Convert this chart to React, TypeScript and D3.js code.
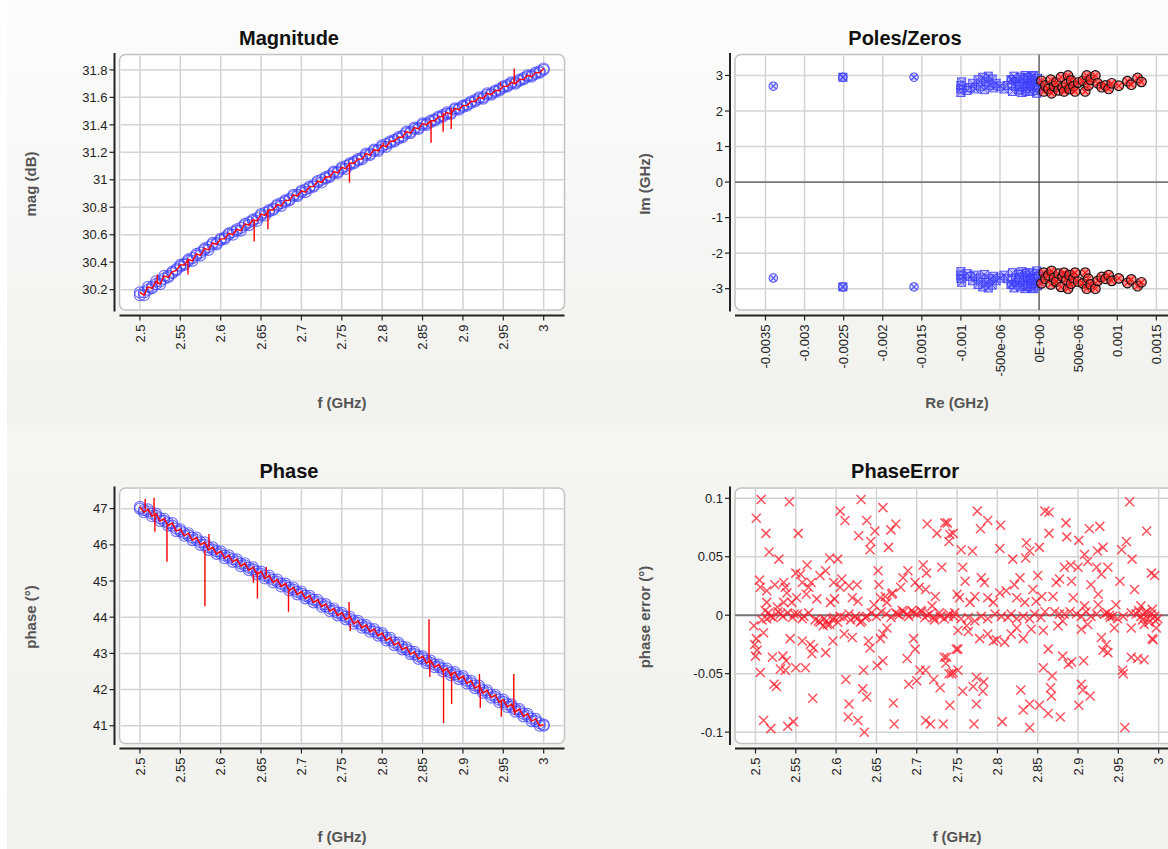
import React from "react";
import * as d3 from "d3";

// ---------- data ----------
const freq = [
  2.5, 2.505, 2.51, 2.515, 2.52, 2.525, 2.53, 2.535, 2.54, 2.545,
  2.55, 2.555, 2.56, 2.565, 2.57, 2.575, 2.58, 2.585, 2.59, 2.595,
  2.6, 2.605, 2.61, 2.615, 2.62, 2.625, 2.63, 2.635, 2.64, 2.645,
  2.65, 2.655, 2.66, 2.665, 2.67, 2.675, 2.68, 2.685, 2.69, 2.695,
  2.7, 2.705, 2.71, 2.715, 2.72, 2.725, 2.73, 2.735, 2.74, 2.745,
  2.75, 2.755, 2.76, 2.765, 2.77, 2.775, 2.78, 2.785, 2.79, 2.795,
  2.8, 2.805, 2.81, 2.815, 2.82, 2.825, 2.83, 2.835, 2.84, 2.845,
  2.85, 2.855, 2.86, 2.865, 2.87, 2.875, 2.88, 2.885, 2.89, 2.895,
  2.9, 2.905, 2.91, 2.915, 2.92, 2.925, 2.93, 2.935, 2.94, 2.945,
  2.95, 2.955, 2.96, 2.965, 2.97, 2.975, 2.98, 2.985, 2.99, 2.995,
  3.0,
];

// fitted magnitude (blue circles)
const magFit = [
  30.16, 30.18, 30.2, 30.22, 30.24, 30.26, 30.28, 30.3, 30.32, 30.35,
  30.37, 30.39, 30.41, 30.43, 30.45, 30.47, 30.49, 30.51, 30.53, 30.54,
  30.56, 30.58, 30.6, 30.62, 30.63, 30.65, 30.67, 30.69, 30.7, 30.72,
  30.74, 30.76, 30.77, 30.79, 30.81, 30.83, 30.84, 30.86, 30.88, 30.89,
  30.91, 30.93, 30.94, 30.96, 30.98, 31.0, 31.01, 31.03, 31.05, 31.06,
  31.08, 31.1, 31.11, 31.13, 31.14, 31.16, 31.18, 31.19, 31.21, 31.22,
  31.24, 31.26, 31.27, 31.29, 31.3, 31.32, 31.34, 31.35, 31.37, 31.38,
  31.4, 31.41, 31.42, 31.44, 31.45, 31.47, 31.48, 31.49, 31.51, 31.52,
  31.53, 31.55, 31.56, 31.58, 31.59, 31.6, 31.62, 31.63, 31.64, 31.66,
  31.67, 31.69, 31.7, 31.71, 31.72, 31.74, 31.75, 31.76, 31.77, 31.79,
  31.8,
];

// measured magnitude (red line, also marked with circles)
const magMeas = [
  30.18, 30.16, 30.22, 30.21, 30.26, 30.24, 30.3, 30.29, 30.33, 30.34,
  30.38, 30.38, 30.42, 30.41, 30.46, 30.45, 30.5, 30.49, 30.54, 30.53,
  30.57, 30.57, 30.61, 30.6, 30.64, 30.63, 30.68, 30.67, 30.71, 30.7,
  30.75, 30.74, 30.78, 30.78, 30.82, 30.81, 30.85, 30.85, 30.89, 30.88,
  30.92, 30.91, 30.95, 30.95, 30.99, 30.98, 31.02, 31.02, 31.06, 31.05,
  31.09, 31.08, 31.12, 31.12, 31.15, 31.15, 31.19, 31.18, 31.22, 31.21,
  31.25, 31.24, 31.28, 31.28, 31.31, 31.31, 31.35, 31.34, 31.38, 31.37,
  31.41, 31.4, 31.43, 31.43, 31.46, 31.46, 31.49, 31.48, 31.52, 31.51,
  31.54, 31.54, 31.57, 31.57, 31.6, 31.59, 31.63, 31.62, 31.65, 31.65,
  31.68, 31.68, 31.71, 31.7, 31.73, 31.73, 31.76, 31.75, 31.78, 31.78,
  31.81,
];

const magSpikes = [
  [2.5215, 30.31], [2.5595, 30.31], [2.6415, 30.55], [2.6585, 30.64],
  [2.7595, 30.98], [2.8015, 31.27], [2.8605, 31.27], [2.8755, 31.35],
  [2.8855, 31.37], [2.9465, 31.71], [2.9635, 31.81],
];

// fitted phase (blue circles)
const phaseFit = [
  47.0, 46.96, 46.92, 46.86, 46.8, 46.73, 46.66, 46.6, 46.53, 46.45,
  46.38, 46.32, 46.26, 46.2, 46.14, 46.07, 46.0, 45.93, 45.87, 45.82,
  45.76, 45.7, 45.65, 45.6, 45.54, 45.48, 45.43, 45.37, 45.32, 45.26,
  45.2, 45.14, 45.09, 45.03, 44.98, 44.92, 44.87, 44.81, 44.76, 44.7,
  44.65, 44.59, 44.53, 44.48, 44.42, 44.36, 44.3, 44.24, 44.18, 44.12,
  44.06, 44.01, 43.95, 43.89, 43.84, 43.78, 43.72, 43.67, 43.61, 43.56,
  43.5, 43.43, 43.37, 43.3, 43.24, 43.18, 43.11, 43.05, 42.98, 42.92,
  42.86, 42.8, 42.74, 42.69, 42.63, 42.58, 42.52, 42.47, 42.42, 42.36,
  42.31, 42.24, 42.18, 42.11, 42.05, 41.98, 41.92, 41.85, 41.79, 41.72,
  41.66, 41.59, 41.53, 41.46, 41.4, 41.33, 41.27, 41.2, 41.13, 41.07,
  41.0,
];

// measured phase (red line, also marked with circles)
const phaseMeas = [
  47.05, 46.9, 46.98, 46.79, 46.86, 46.66, 46.72, 46.53, 46.6, 46.38,
  46.43, 46.25, 46.32, 46.13, 46.2, 46.0, 46.07, 45.86, 45.93, 45.75,
  45.82, 45.63, 45.71, 45.53, 45.6, 45.41, 45.49, 45.3, 45.38, 45.19,
  45.26, 45.07, 45.15, 44.96, 45.04, 44.85, 44.93, 44.74, 44.82, 44.63,
  44.71, 44.52, 44.59, 44.41, 44.48, 44.29, 44.36, 44.17, 44.24, 44.05,
  44.12, 43.94, 44.01, 43.82, 43.9, 43.71, 43.78, 43.6, 43.67, 43.49,
  43.56, 43.36, 43.43, 43.23, 43.3, 43.11, 43.17, 42.98, 43.04, 42.85,
  42.92, 42.73, 42.8, 42.62, 42.69, 42.51, 42.58, 42.4, 42.48, 42.29,
  42.37, 42.17, 42.24, 42.04, 42.11, 41.91, 41.98, 41.78, 41.85, 41.65,
  41.72, 41.52, 41.59, 41.39, 41.46, 41.26, 41.33, 41.13, 41.19, 41.0,
  41.03,
];

const phaseSpikes = [
  [2.5065, 47.27], [2.5175, 47.3], [2.5185, 46.36], [2.5335, 45.53],
  [2.5805, 44.3], [2.5855, 46.3], [2.6405, 44.95], [2.6455, 44.52],
  [2.6565, 45.39], [2.684, 44.15], [2.759, 44.42], [2.7605, 43.62],
  [2.858, 43.94], [2.859, 42.35], [2.876, 41.07], [2.886, 41.6],
  [2.9205, 42.43], [2.9215, 41.5], [2.9475, 41.25], [2.963, 42.43],
  [2.964, 41.3],
];

// phase error scatter [f, err]
const errPts = [
  [2.507, 0.099], [2.542, 0.097], [2.501, 0.083], [2.513, 0.07], [2.553, 0.07], [2.517, 0.054], [2.529, 0.048],
  [2.631, 0.099], [2.605, 0.089], [2.611, 0.081], [2.658, 0.092], [2.638, 0.081], [2.628, 0.068], [2.648, 0.072],
  [2.668, 0.073], [2.674, 0.078], [2.643, 0.063], [2.642, 0.056], [2.665, 0.058], [2.713, 0.078], [2.725, 0.07],
  [2.735, 0.079], [2.592, 0.049], [2.602, 0.048], [2.652, 0.038], [2.708, 0.043], [2.712, 0.036], [2.731, 0.041],
  [2.505, 0.03], [2.506, 0.024], [2.514, 0.021], [2.514, 0.011], [2.524, 0.026], [2.535, 0.028], [2.537, 0.024],
  [2.539, 0.019], [2.55, 0.036], [2.556, 0.035], [2.564, 0.043], [2.558, 0.028], [2.566, 0.024], [2.569, 0.028],
  [2.58, 0.034], [2.587, 0.038], [2.597, 0.028], [2.607, 0.031], [2.605, 0.024], [2.616, 0.025], [2.626, 0.026],
  [2.62, 0.015], [2.598, 0.014], [2.593, 0.011], [2.576, 0.014], [2.563, 0.018], [2.551, 0.015], [2.545, 0.011],
  [2.535, 0.011], [2.527, 0.007], [2.647, 0.009], [2.655, 0.015], [2.661, 0.016], [2.669, 0.018], [2.663, 0.011],
  [2.68, 0.024], [2.683, 0.032], [2.689, 0.038], [2.698, 0.028], [2.703, 0.024], [2.711, 0.022], [2.723, 0.016],
  [2.719, 0.008], [2.653, 0.026], [2.67, 0.019], [2.627, 0.012],
  [2.508, -0.004], [2.516, 0.002], [2.522, -0.002], [2.528, 0.003], [2.534, -0.001], [2.54, 0.002], [2.546, -0.002],
  [2.552, 0.001], [2.558, -0.003], [2.566, 0.002], [2.574, -0.004], [2.58, -0.006], [2.584, -0.009], [2.588, -0.005],
  [2.592, -0.008], [2.596, -0.004], [2.602, -0.006], [2.61, -0.002], [2.618, -0.004], [2.624, -0.001], [2.63, -0.006],
  [2.636, -0.002], [2.644, 0.002], [2.65, -0.001], [2.656, 0.003], [2.662, 0.001], [2.668, -0.002], [2.674, 0.002],
  [2.678, 0.0], [2.684, 0.003], [2.69, -0.001], [2.694, 0.004], [2.7, 0.001], [2.706, 0.003], [2.71, -0.002],
  [2.716, 0.001], [2.722, -0.004], [2.728, 0.002], [2.734, -0.003], [2.74, 0.001], [2.746, -0.001],
  [2.519, -0.001], [2.514, -0.003], [2.512, 0.004], [2.531, 0.001], [2.548, 0.001], [2.56, -0.001], [2.578, -0.005],
  [2.585, -0.003], [2.589, -0.008], [2.597, -0.002], [2.605, -0.001], [2.616, 0.001], [2.626, -0.003], [2.632, -0.005],
  [2.638, -0.001], [2.676, 0.001], [2.682, 0.004], [2.688, 0.001], [2.696, 0.002], [2.705, 0.004], [2.713, 0.0],
  [2.721, -0.002], [2.729, -0.001],
  [2.498, -0.009], [2.501, -0.02], [2.499, -0.025], [2.502, -0.03], [2.5, -0.035], [2.51, -0.015], [2.506, -0.049],
  [2.521, -0.036], [2.534, -0.035], [2.531, -0.046], [2.537, -0.047], [2.538, -0.039], [2.523, -0.059], [2.526, -0.061],
  [2.543, -0.02], [2.558, -0.022], [2.568, -0.025], [2.572, -0.028], [2.57, -0.033], [2.587, -0.032], [2.55, -0.045],
  [2.562, -0.045], [2.571, -0.071], [2.51, -0.09], [2.519, -0.097], [2.54, -0.095], [2.547, -0.091], [2.596, -0.022],
  [2.61, -0.016], [2.62, -0.019], [2.64, -0.022], [2.642, -0.028], [2.655, -0.02], [2.658, -0.016], [2.663, -0.011],
  [2.696, -0.02], [2.698, -0.029], [2.688, -0.037], [2.634, -0.047], [2.651, -0.043], [2.658, -0.039], [2.612, -0.055],
  [2.633, -0.063], [2.638, -0.07], [2.616, -0.076], [2.615, -0.087], [2.627, -0.09], [2.635, -0.1], [2.671, -0.075],
  [2.672, -0.093], [2.704, -0.047], [2.711, -0.047], [2.69, -0.059], [2.7, -0.056], [2.711, -0.09], [2.717, -0.093],
  [2.721, -0.055], [2.729, -0.062], [2.733, -0.093], [2.734, -0.036], [2.736, -0.041], [2.74, -0.05], [2.745, -0.049],
  [2.749, -0.029],
  [2.738, 0.079], [2.741, 0.069], [2.745, 0.07], [2.74, 0.063], [2.775, 0.089], [2.788, 0.081], [2.779, 0.074],
  [2.804, 0.077], [2.755, 0.056], [2.769, 0.055], [2.803, 0.057], [2.819, 0.048], [2.836, 0.062], [2.84, 0.055],
  [2.835, 0.049], [2.852, 0.058], [2.859, 0.089], [2.864, 0.088], [2.864, 0.07], [2.885, 0.079], [2.886, 0.067],
  [2.901, 0.064], [2.914, 0.074], [2.927, 0.076], [2.924, 0.055], [2.931, 0.058], [2.908, 0.052], [2.912, 0.046],
  [2.9, 0.041], [2.923, 0.041], [2.964, 0.097], [2.985, 0.072], [2.96, 0.063], [2.954, 0.056], [2.967, 0.048],
  [2.883, 0.041], [2.891, 0.043],
  [2.757, 0.041], [2.76, 0.029], [2.78, 0.032], [2.784, 0.028], [2.75, 0.018], [2.753, 0.015], [2.772, 0.016],
  [2.766, 0.011], [2.788, 0.015], [2.795, 0.011], [2.803, 0.019], [2.811, 0.021], [2.821, 0.026], [2.828, 0.032],
  [2.824, 0.015], [2.834, 0.011], [2.844, 0.022], [2.848, 0.012], [2.855, 0.016], [2.85, 0.034], [2.869, 0.016],
  [2.873, 0.028], [2.877, 0.031], [2.892, 0.029], [2.894, 0.015], [2.916, 0.026], [2.925, 0.018], [2.929, 0.035],
  [2.937, 0.041], [2.952, 0.029], [2.97, 0.022], [2.995, 0.034], [2.947, 0.009], [2.925, 0.009], [2.908, 0.008],
  [2.991, 0.036],
  [2.739, -0.001], [2.747, 0.002], [2.755, -0.003], [2.764, -0.002], [2.772, -0.005], [2.78, -0.001], [2.788, -0.003],
  [2.797, 0.001], [2.805, -0.001], [2.813, -0.002], [2.817, 0.001], [2.824, -0.003], [2.832, -0.001], [2.84, -0.003],
  [2.846, 0.001], [2.854, -0.002], [2.859, 0.003], [2.871, 0.003], [2.877, 0.001], [2.883, 0.001], [2.89, 0.003],
  [2.898, 0.001], [2.904, -0.001], [2.91, 0.003], [2.916, -0.001], [2.923, 0.001], [2.933, 0.001], [2.939, 0.0],
  [2.943, -0.001], [2.949, -0.003], [2.956, -0.001], [2.966, 0.002], [2.972, 0.001], [2.978, -0.001], [2.983, 0.002],
  [2.987, -0.003], [2.991, 0.001], [2.995, -0.001], [2.999, -0.003], [2.936, 0.002], [2.94, -0.002], [2.975, 0.004],
  [2.98, -0.004], [2.985, 0.003], [2.988, -0.006], [2.992, 0.005], [2.996, -0.005], [2.978, 0.008], [2.982, -0.008],
  [2.751, -0.013], [2.762, -0.009], [2.764, -0.014], [2.778, -0.02], [2.788, -0.016], [2.795, -0.022], [2.799, -0.021],
  [2.809, -0.023], [2.817, -0.016], [2.824, -0.011], [2.832, -0.02], [2.842, -0.012], [2.857, -0.013], [2.875, -0.009],
  [2.881, -0.005], [2.904, -0.012], [2.912, -0.008], [2.929, -0.019], [2.935, -0.025], [2.931, -0.03], [2.937, -0.032],
  [2.945, -0.011], [2.966, -0.011], [2.993, -0.021], [2.997, -0.011], [2.751, -0.029], [2.737, -0.036], [2.743, -0.05],
  [2.751, -0.047], [2.741, -0.077], [2.757, -0.065], [2.77, -0.061], [2.774, -0.053], [2.783, -0.057], [2.782, -0.065],
  [2.774, -0.076], [2.771, -0.093], [2.806, -0.091], [2.829, -0.064], [2.832, -0.081], [2.84, -0.076], [2.852, -0.077],
  [2.863, -0.084], [2.878, -0.087], [2.84, -0.096], [2.857, -0.045], [2.863, -0.029], [2.868, -0.052], [2.866, -0.062],
  [2.867, -0.069], [2.881, -0.035], [2.888, -0.042], [2.892, -0.04], [2.907, -0.039], [2.904, -0.059], [2.906, -0.064],
  [2.901, -0.077], [2.915, -0.069], [2.955, -0.047], [2.956, -0.05], [2.958, -0.096], [2.966, -0.036], [2.974, -0.037],
  [2.982, -0.038], [2.992, -0.02],
];

// poles (upper half, conjugates are drawn mirrored) [Re, Im] in GHz
const poleSquares = [
  [-0.00251, 2.95],
  [-0.001, 2.52], [-0.001, 2.62], [-0.001, 2.72], [-0.00099, 2.82], [-0.00092, 2.58], [-0.00088, 2.66],
  [-0.00085, 2.78], [-0.00082, 2.62], [-0.00078, 2.88], [-0.00075, 2.7], [-0.00072, 2.95], [-0.0007, 2.6],
  [-0.00068, 2.82], [-0.00065, 2.98], [-0.00063, 2.72], [-0.0006, 2.9], [-0.00058, 2.65], [-0.00055, 2.78],
  [-0.0005, 2.7], [-0.00045, 2.62], [-0.0004, 2.72], [-0.00036, 2.88], [-0.00034, 2.55], [-0.00032, 2.98],
  [-0.0003, 2.7], [-0.00028, 2.82], [-0.00026, 2.6], [-0.00024, 2.95], [-0.00022, 2.52], [-0.0002, 2.76],
  [-0.00018, 3.0], [-0.00016, 2.64], [-0.00014, 2.88], [-0.00012, 2.55], [-0.0001, 2.98], [-0.00008, 2.7],
  [-0.00006, 2.82], [-0.00004, 2.58], [-0.00002, 2.92], [-0.00001, 2.66], [-0.00011, 2.76], [-0.00021, 2.9],
  [-0.00003, 2.5], [-0.00009, 2.86], [-0.00017, 2.56], [-0.00025, 2.68], [-0.00007, 3.0], [-0.00015, 2.94],
];
const poleCircles = [
  [-0.0034, 2.7], [-0.0016, 2.95], [-0.00251, 2.95], [-0.00035, 2.88], [-0.00012, 2.7],
];
const zeros = [
  [0.00003, 2.85], [0.00006, 2.55], [0.00008, 2.72], [0.00012, 2.62], [0.00015, 2.88], [0.00016, 2.5],
  [0.00019, 2.7], [0.00022, 2.8], [0.00025, 2.58], [0.00028, 2.95], [0.0003, 2.66], [0.00032, 2.55],
  [0.00035, 2.76], [0.00037, 3.0], [0.00039, 2.62], [0.00041, 2.86], [0.00044, 2.7], [0.00046, 2.55],
  [0.0005, 2.8], [0.00056, 2.85], [0.00059, 2.55], [0.00061, 3.0], [0.00063, 2.72], [0.00066, 2.88],
  [0.00072, 3.0], [0.00075, 2.78], [0.0008, 2.67], [0.00085, 2.72], [0.00089, 2.62], [0.00093, 2.78],
  [0.00102, 2.71], [0.00113, 2.84], [0.00118, 2.74], [0.00126, 2.93], [0.00131, 2.82],
];

const freqTicks = [2.5, 2.55, 2.6, 2.65, 2.7, 2.75, 2.8, 2.85, 2.9, 2.95, 3];
const magTicks = [30.2, 30.4, 30.6, 30.8, 31, 31.2, 31.4, 31.6, 31.8];
const phaseTicks = [41, 42, 43, 44, 45, 46, 47];
const imTicks = [-3, -2, -1, 0, 1, 2, 3];
const reTicks = [-0.0035, -0.003, -0.0025, -0.002, -0.0015, -0.001, -0.0005, 0, 0.0005, 0.001, 0.0015];
const reTickLabels = ["-0.0035", "-0.003", "-0.0025", "-0.002", "-0.0015", "-0.001", "-500e-06", "0E+00", "500e-06", "0.001", "0.0015"];
const errTicks = [-0.1, -0.05, 0, 0.05, 0.1];
const errTickLabels = ["-0.1", "-0.05", "0", "0.05", "0.1"];

// ---------- layout ----------
const FONT = "'Liberation Sans', Arial, sans-serif";
const COL_L = { x0: 119.5, x1: 564.5, axisX: 114.5, titleX: 289, yTitleX: 31, xTitleX: 342 };
const COL_R = { x0: 735, x1: 1179, axisX: 730, titleX: 905, yTitleX: 645, xTitleX: 957 };
const ROW_T = { y0: 54.5, y1: 310, axisY: 315.5, titleY: 45, yTitleY: 184, xTitleY: 408 };
const ROW_B = { y0: 488, y1: 743.5, axisY: 748.5, titleY: 478, yTitleY: 617, xTitleY: 842 };

function Panel({ col, row, x, y, xTicks, xLabels, yTicks, yLabels, title, xTitle, yTitle, children }: any) {
  return (
    <g>
      <text x={col.titleX} y={row.titleY} textAnchor="middle" fontFamily={FONT} fontWeight="bold" fontSize={20} fill="#111">
        {title}
      </text>
      <rect x={col.x0} y={row.y0} width={col.x1 - col.x0} height={row.y1 - row.y0} rx={6} fill="#fff" stroke="#c2c2c2" strokeWidth={1.5} />
      {yTicks.map((t: number, i: number) => (
        <line key={"gy" + i} x1={col.x0 + 1} x2={col.x1 - 1} y1={y(t)} y2={y(t)} stroke="#d3d3d3" strokeWidth={1.5} />
      ))}
      {xTicks.map((t: number, i: number) => (
        <line key={"gx" + i} x1={x(t)} x2={x(t)} y1={row.y0 + 1} y2={row.y1 - 1} stroke="#d3d3d3" strokeWidth={1.5} />
      ))}
      {children}
      {/* y axis */}
      <line x1={col.axisX} x2={col.axisX} y1={row.y0 - 1.5} y2={row.y1 + 1.5} stroke="#222" strokeWidth={2} />
      {yTicks.map((t: number, i: number) => (
        <g key={"ty" + i}>
          <line x1={col.axisX - 5} x2={col.axisX} y1={y(t)} y2={y(t)} stroke="#222" strokeWidth={1.2} />
          <text x={col.axisX - 7} y={y(t)} dy="0.36em" textAnchor="end" fontFamily={FONT} fontSize={13} fill="#222">
            {yLabels[i]}
          </text>
        </g>
      ))}
      {/* x axis */}
      <line x1={col.x0} x2={col.x1} y1={row.axisY} y2={row.axisY} stroke="#222" strokeWidth={2} />
      {xTicks.map((t: number, i: number) => (
        <g key={"tx" + i}>
          <line x1={x(t)} x2={x(t)} y1={row.axisY} y2={row.axisY + 5} stroke="#222" strokeWidth={1.2} />
          <text
            x={x(t)}
            y={row.axisY + 9}
            dy="0.36em"
            textAnchor="end"
            transform={`rotate(-90, ${x(t)}, ${row.axisY + 9})`}
            fontFamily={FONT}
            fontSize={13}
            fill="#222"
          >
            {xLabels[i]}
          </text>
        </g>
      ))}
      <text x={col.xTitleX} y={row.xTitleY} textAnchor="middle" fontFamily={FONT} fontWeight="bold" fontSize={15} fill="#555">
        {xTitle}
      </text>
      <text
        x={col.yTitleX}
        y={row.yTitleY}
        dy="0.36em"
        textAnchor="middle"
        transform={`rotate(-90, ${col.yTitleX}, ${row.yTitleY})`}
        fontFamily={FONT}
        fontWeight="bold"
        fontSize={15}
        fill="#555"
      >
        {yTitle}
      </text>
    </g>
  );
}

// spikes are single samples of the measured trace, drawn as vertical strokes from the trace
function spikePath(spikes: number[][], vals: number[], x: any, y: any) {
  return spikes
    .map(([f, v]) => {
      const i = d3.bisectLeft(freq, f);
      const base = vals[Math.min(i, vals.length - 1)];
      return `M${x(f)},${y(base)}L${x(f)},${y(v)}`;
    })
    .join("");
}

export default function App() {
  const xL = d3.scaleLinear().domain([2.4747, 3.0258]).range([COL_L.x0, COL_L.x1]);
  const xR = d3.scaleLinear().domain([2.4746, 3.0252]).range([COL_R.x0, COL_R.x1]);
  const xRe = d3.scaleLinear().domain([-0.00389, 0.00179]).range([COL_R.x0, COL_R.x1]);
  const yMag = d3.scaleLinear().domain([30.052, 31.912]).range([ROW_T.y1, ROW_T.y0]);
  const yIm = d3.scaleLinear().domain([-3.6, 3.59]).range([ROW_T.y1, ROW_T.y0]);
  const yPh = d3.scaleLinear().domain([40.51, 47.57]).range([ROW_B.y1, ROW_B.y0]);
  const yErr = d3.scaleLinear().domain([-0.1097, 0.1088]).range([ROW_B.y1, ROW_B.y0]);

  const magLine = d3.line<number>().x((_, i) => xL(freq[i])).y((d) => yMag(d))(magMeas) || "";
  const phLine = d3.line<number>().x((_, i) => xL(freq[i])).y((d) => yPh(d))(phaseMeas) || "";

  const freqLabels = freqTicks.map((t) => d3.format("")(t));
  const conj = (pts: number[][]) => pts.concat(pts.map((p) => [p[0], -p[1]]));
  const blue = "#3c3cff";

  const rings = (vals: number[], y: any, k: string) =>
    freq.map((f, i) => (
      <circle key={k + i} cx={xL(f)} cy={y(vals[i])} r={5.5} fill="none" stroke={blue} strokeOpacity={0.7} strokeWidth={1.2} />
    ));

  return (
    <svg width={1168} height={849} style={{ position: "absolute", left: 0, top: 0 }}>
      <defs>
        <linearGradient id="bgTop" x1="0" y1="0" x2="0" y2="1">
          <stop offset="0" stopColor="#fcfcfc" />
          <stop offset="1" stopColor="#f1f1ed" />
        </linearGradient>
        <linearGradient id="bgBot" x1="0" y1="0" x2="0" y2="1">
          <stop offset="0" stopColor="#f5f5f2" />
          <stop offset="1" stopColor="#f1f1ed" />
        </linearGradient>
      </defs>
      <rect x={0} y={0} width={1168} height={849} fill="#fff" />
      <rect x={7} y={0} width={1161} height={425} fill="url(#bgTop)" />
      <rect x={7} y={425} width={1161} height={424} fill="url(#bgBot)" />

      {/* Magnitude */}
      <Panel col={COL_L} row={ROW_T} x={xL} y={yMag} xTicks={freqTicks} xLabels={freqLabels}
        yTicks={magTicks} yLabels={magTicks.map((t) => d3.format("")(t))}
        title="Magnitude" xTitle="f (GHz)" yTitle="mag (dB)">
        {rings(magFit, yMag, "mf")}
        {rings(magMeas, yMag, "mm")}
        <path d={magLine} fill="none" stroke="#ff0000" strokeWidth={1.4} />
        <path d={spikePath(magSpikes, magMeas, xL, yMag)} fill="none" stroke="#ff0000" strokeWidth={1.4} />
      </Panel>

      {/* Poles / Zeros */}
      <Panel col={COL_R} row={ROW_T} x={xRe} y={yIm} xTicks={reTicks} xLabels={reTickLabels}
        yTicks={imTicks} yLabels={imTicks.map(String)}
        title="Poles/Zeros" xTitle="Re (GHz)" yTitle="Im (GHz)">
        <line x1={COL_R.x0} x2={COL_R.x1} y1={yIm(0)} y2={yIm(0)} stroke="#555" strokeWidth={1.3} />
        <line x1={xRe(0)} x2={xRe(0)} y1={ROW_T.y0} y2={ROW_T.y1} stroke="#444" strokeWidth={1.1} />
        {conj(poleSquares).map((p, i) => {
          const cx = xRe(p[0]), cy = yIm(p[1]);
          return (
            <g key={"ps" + i} stroke={blue} strokeOpacity={0.85} strokeWidth={1}>
              <rect x={cx - 4} y={cy - 4} width={8} height={8} fill="rgba(90,90,255,0.3)" />
              <path d={`M${cx - 4},${cy - 4}L${cx + 4},${cy + 4}M${cx - 4},${cy + 4}L${cx + 4},${cy - 4}`} />
            </g>
          );
        })}
        {conj(poleCircles).map((p, i) => {
          const cx = xRe(p[0]), cy = yIm(p[1]);
          return (
            <g key={"pc" + i} stroke={blue} strokeOpacity={0.9} strokeWidth={1.1}>
              <circle cx={cx} cy={cy} r={4.2} fill="rgba(90,90,255,0.2)" />
              <path d={`M${cx - 3},${cy - 3}L${cx + 3},${cy + 3}M${cx - 3},${cy + 3}L${cx + 3},${cy - 3}`} />
            </g>
          );
        })}
        {conj(zeros).map((p, i) => {
          const cx = xRe(p[0]), cy = yIm(p[1]);
          return (
            <g key={"z" + i}>
              <circle cx={cx} cy={cy} r={4.8} fill="rgba(255,70,70,0.55)" stroke="#111" strokeWidth={1.2} />
              <path d={`M${cx - 3.2},${cy - 3.2}L${cx + 3.2},${cy + 3.2}M${cx - 3.2},${cy + 3.2}L${cx + 3.2},${cy - 3.2}`} stroke="#ff1010" strokeWidth={1.1} />
            </g>
          );
        })}
      </Panel>

      {/* Phase */}
      <Panel col={COL_L} row={ROW_B} x={xL} y={yPh} xTicks={freqTicks} xLabels={freqLabels}
        yTicks={phaseTicks} yLabels={phaseTicks.map(String)}
        title="Phase" xTitle="f (GHz)" yTitle="phase (°)">
        {rings(phaseFit, yPh, "pf")}
        {rings(phaseMeas, yPh, "pm")}
        <path d={phLine} fill="none" stroke="#ff0000" strokeWidth={1.5} />
        <path d={spikePath(phaseSpikes, phaseMeas, xL, yPh)} fill="none" stroke="#ff0000" strokeWidth={1.4} />
      </Panel>

      {/* Phase error */}
      <Panel col={COL_R} row={ROW_B} x={xR} y={yErr} xTicks={freqTicks} xLabels={freqLabels}
        yTicks={errTicks} yLabels={errTickLabels}
        title="PhaseError" xTitle="f (GHz)" yTitle="phase error (°)">
        <line x1={COL_R.x0} x2={COL_R.x1} y1={yErr(0)} y2={yErr(0)} stroke="#777" strokeWidth={2} />
        {errPts.map((p, i) => {
          const cx = xR(p[0]), cy = yErr(p[1]);
          return (
            <path key={i} d={`M${cx - 4.5},${cy - 4.5}L${cx + 4.5},${cy + 4.5}M${cx - 4.5},${cy + 4.5}L${cx + 4.5},${cy - 4.5}`}
              stroke="#ff1a2a" strokeOpacity={0.75} strokeWidth={1.5} />
          );
        })}
      </Panel>
    </svg>
  );
}
